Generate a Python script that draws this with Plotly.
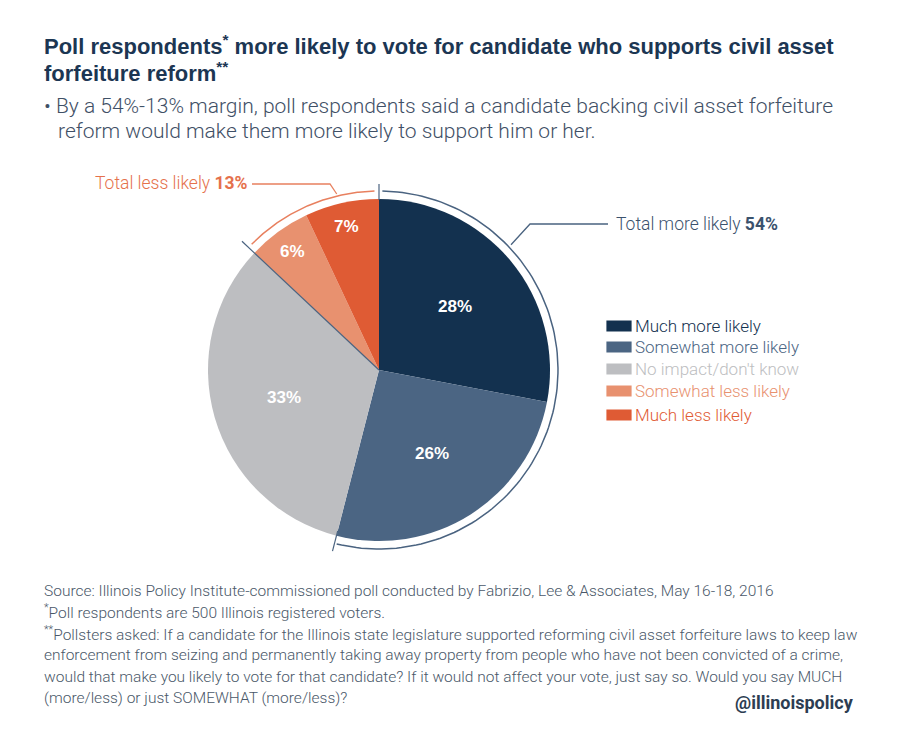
import math
import plotly.graph_objects as go

# ---- data ----
categories = ["Much more likely", "Somewhat more likely", "No impact/don't know",
              "Somewhat less likely", "Much less likely"]
values = [28, 26, 33, 6, 7]
colors = ["#13314f", "#4b6583", "#bdbec1", "#e8916f", "#df5b34"]
total_more = 54
total_less = 13

W, H = 900, 740
CX, CY, R = 379, 370, 171

fig = go.Figure()

fig.add_trace(go.Pie(
    values=values, labels=categories, sort=False, direction="clockwise", rotation=0,
    marker=dict(colors=colors, line=dict(width=0)), textinfo="none", hoverinfo="label+percent",
    showlegend=False,
    domain=dict(x=[(CX - R) / W, (CX + R) / W], y=[(H - CY - R) / H, (H - CY + R) / H]),
))

def polar(frac, r):
    a = frac * 2 * math.pi
    return CX + r * math.sin(a), CY - r * math.cos(a)

def arc(f0, f1, r, n=120):
    xs, ys = [], []
    for i in range(n + 1):
        x, y = polar(f0 + (f1 - f0) * i / n, r)
        xs.append(x); ys.append(y)
    return xs, ys

more_frac = total_more / 100
less_start = 1 - total_less / 100
blue_line = "#4a6380"
orange_line = "#e8805f"

# outer arcs
xs, ys = arc(0.003, more_frac - 0.002, 179)
fig.add_trace(go.Scatter(x=xs, y=ys, mode="lines", line=dict(color=blue_line, width=1.5),
                         hoverinfo="skip", showlegend=False))
xs, ys = arc(less_start + 0.004, 0.996, 179)
fig.add_trace(go.Scatter(x=xs, y=ys, mode="lines", line=dict(color=orange_line, width=1.5),
                         hoverinfo="skip", showlegend=False))

# ticks (shapes drawn above the pie layer)
shapes = []
for f, r0, r1 in [(0, 170, 186), (more_frac, 166, 187), (less_start, 0, 188)]:
    x0, y0 = polar(f, r0)
    x1, y1 = polar(f, r1)
    shapes.append(dict(type="line", xref="x", yref="y", x0=x0, y0=y0, x1=x1, y1=y1,
                       line=dict(color=blue_line, width=1.2), layer="above"))

# leader lines
sx, sy = polar(46.5 / 360, 182)
fig.add_trace(go.Scatter(x=[sx, 530, 608], y=[sy, 224, 224], mode="lines",
                         line=dict(color=blue_line, width=1.3), hoverinfo="skip", showlegend=False))
sx, sy = polar(346.5 / 360, 181)
fig.add_trace(go.Scatter(x=[sx, 330, 252], y=[sy, 184, 184], mode="lines",
                         line=dict(color=orange_line, width=1.3), hoverinfo="skip", showlegend=False))

font = "Roboto, Liberation Sans, sans-serif"
bold_font = "Liberation Sans, Arial, sans-serif"
ann = []

# slice labels
cum = 0
for v in values:
    mid = (cum + v / 2) / 100
    rr = 0.86 * R if v < 10 else 0.58 * R
    x, y = polar(mid, rr)
    ann.append(dict(x=x, y=y, text=f"<b>{v}%</b>", xanchor="center",
                    font=dict(family=bold_font, size=17, color="white")))
    cum += v

# legend
leg_y = [326, 347, 369, 391, 415]
fig.add_trace(go.Scatter(
    x=[619] * len(categories), y=leg_y, mode="markers",
    marker=dict(symbol="line-ew", size=18, line=dict(width=11, color=colors)),
    hoverinfo="skip", showlegend=False, cliponaxis=False))
for y, c, col in zip(leg_y, categories, colors):
    ann.append(dict(x=633, y=y, text=c, font=dict(family=font, size=17, color=col, weight=300)))

ann.append(dict(x=42, y=45, text="<b>Poll respondents<sup>*</sup> more likely to vote for candidate who supports civil asset</b>",
                font=dict(family=bold_font, size=22, color="#1c3653")))
ann.append(dict(x=42, y=72, text="<b>forfeiture reform<sup>**</sup></b>",
                font=dict(family=bold_font, size=22, color="#1c3653")))
ann.append(dict(x=42, y=106, text="• By a 54%-13% margin, poll respondents said a candidate backing civil asset forfeiture",
                font=dict(family=font, size=21, color="#3f5066", weight=300)))
ann.append(dict(x=56, y=131, text="reform would make them more likely to support him or her.",
                font=dict(family=font, size=21, color="#3f5066", weight=300)))
ann.append(dict(x=93, y=183, text=f"Total less likely <b>{total_less}%</b>",
                font=dict(family=font, size=17.5, color="#e5714c", weight=300)))
ann.append(dict(x=614, y=224, text=f"Total more likely <b>{total_more}%</b>",
                font=dict(family=font, size=17.5, color="#3b526d", weight=300)))
foot = [
    (591, "Source: Illinois Policy Institute-commissioned poll conducted by Fabrizio, Lee &amp; Associates, May 16-18, 2016"),
    (611, "<sup>*</sup>Poll respondents are 500 Illinois registered voters."),
    (633, "<sup>**</sup>Pollsters asked: If a candidate for the Illinois state legislature supported reforming civil asset forfeiture laws to keep law"),
    (655, "enforcement from seizing and permanently taking away property from people who have not been convicted of a crime,"),
    (677, "would that make you likely to vote for that candidate? If it would not affect your vote, just say so. Would you say MUCH"),
    (698, "(more/less) or just SOMEWHAT (more/less)?"),
]
for y, t in foot:
    ann.append(dict(x=42, y=y, text=t, font=dict(family=font, size=15.5, color="#4a5869", weight=300)))
ann.append(dict(x=856, y=702, text="<b>@illinoispolicy</b>", xanchor="right",
                font=dict(family=font, size=18, color="#2c3d52")))
for a in ann:
    a.setdefault("xanchor", "left")
    a.update(xref="x", yref="y", yanchor="middle", showarrow=False)

fig.update_layout(
    width=W, height=H, margin=dict(l=0, r=0, t=0, b=0),
    paper_bgcolor="white", plot_bgcolor="rgba(0,0,0,0)",
    xaxis=dict(range=[0, W], visible=False, fixedrange=True),
    yaxis=dict(range=[H, 0], visible=False, fixedrange=True),
    annotations=ann, shapes=shapes, showlegend=False,
)

fig.write_html("out.html", config={"displayModeBar": False},
               post_script="document.body.style.margin='0';")
